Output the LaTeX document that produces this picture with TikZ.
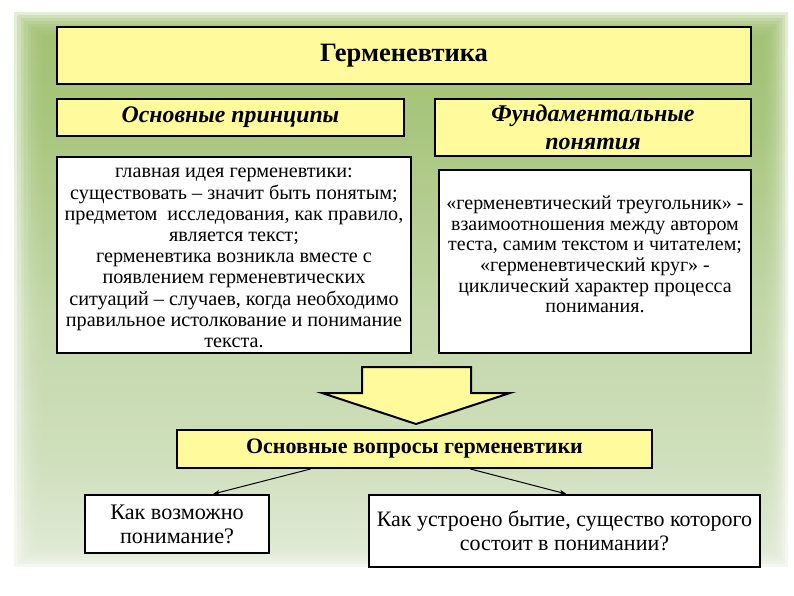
\documentclass[tikz,border=0pt]{standalone}
\usepackage{fontspec}
\setmainfont{Liberation Serif}
\usetikzlibrary{arrows.meta,calc}
\definecolor{ylw}{HTML}{FFFB9C}
\pgfdeclareverticalshading{bgshade}{100bp}{%
  color(0bp)=({rgb,255:red,250;green,250;blue,247});
  color(4bp)=({rgb,255:red,248;green,248;blue,244});
  color(15bp)=({rgb,255:red,238;green,243;blue,234});
  color(26bp)=({rgb,255:red,221;green,232;blue,208});
  color(33bp)=({rgb,255:red,207;green,224;blue,188});
  color(48bp)=({rgb,255:red,193;green,214;blue,165});
  color(66bp)=({rgb,255:red,165;green,196;blue,120});
  color(86bp)=({rgb,255:red,155;green,187;blue,101});
  color(100bp)=({rgb,255:red,165;green,193;blue,118})}
\begin{document}
\begin{tikzpicture}[x=1pt,y=-1pt,
  box/.style={draw=black,line width=2pt,inner sep=0pt,align=center},
  ybox/.style={box,fill=ylw},
  wbox/.style={box,fill=white},
  txt/.style={inner sep=0pt,align=center},
  conn/.style={line width=1pt,-{Stealth[length=7pt,width=5pt]}}]
\useasboundingbox (0,0) rectangle (794,595);
% background
\fill[white] (0,0) rectangle (794,595);
\foreach \i in {0,...,8}{
  \shade[shading=bgshade,opacity=0.28] (14+3.5*\i,12+3*\i) rectangle (788-3*\i,566-3*\i);
}
% boxes
\node[ybox,minimum width=694pt,minimum height=57pt,font=\bfseries\fontsize{26.5}{30}\selectfont] (title) at (404,55.5) {Герменевтика};
\node[ybox,minimum width=347pt,minimum height=37pt,font=\bfseries\itshape\fontsize{23.8}{27}\selectfont] (pr) at (230.5,117.5) {Основные принципы};
\node[ybox,minimum width=316pt,minimum height=57pt,font=\bfseries\itshape\fontsize{24}{27.5}\selectfont] (fu) at (593,127.5) {Фундаментальные\\понятия};
\node[wbox,minimum width=354pt,minimum height=196pt] (lt) at (234,255) {};
\node[txt,font=\fontsize{20.2}{21.2}\selectfont] (ltt) at ($(lt.center)+(0,3)$) {главная идея герменевтики:\\существовать – значит быть понятым;\\предметом \ исследования, как правило,\\является текст;\\герменевтика возникла вместе с\\появлением герменевтических\\ситуаций – случаев, когда необходимо\\правильное истолкование и понимание\\текста.};
\node[wbox,minimum width=312pt,minimum height=183pt] (rt) at (595,261.5) {};
\node[txt,font=\fontsize{20}{20.6}\selectfont] (rtt) at ($(rt.center)+(0,-7)$) {«герменевтический треугольник» -\\взаимоотношения между автором\\теста, самим текстом и читателем;\\«герменевтический круг» -\\циклический характер процесса\\понимания.};
% big arrow
\coordinate (ar) at (416,395);
\draw[line width=2pt,fill=ylw,line join=miter] ($(ar)+(-54,-28)$) -- ($(ar)+(55,-28)$) -- ($(ar)+(55,-2)$) -- ($(ar)+(94,-2)$) -- ($(ar)+(0,29)$) -- ($(ar)+(-94,-2)$) -- ($(ar)+(-54,-2)$) -- cycle;
\node[ybox,minimum width=475pt,minimum height=38pt,font=\bfseries\fontsize{22}{26}\selectfont] (q) at (414.5,449) {Основные вопросы герменевтики};
\node[wbox,minimum width=184pt,minimum height=58pt,font=\fontsize{22.2}{24}\selectfont] (b1) at (177,524) {Как возможно\\понимание?};
\node[wbox,minimum width=391pt,minimum height=72pt,font=\fontsize{22}{24}\selectfont] (b2) at (564.5,531) {Как устроено бытие, существо которого\\состоит в понимании?};
\draw[conn] ([xshift=-104pt]q.south) -- ([xshift=36pt]b1.north);
\draw[conn] ([xshift=56pt]q.south) -- ([xshift=2pt]b2.north);
\end{tikzpicture}
\end{document}
